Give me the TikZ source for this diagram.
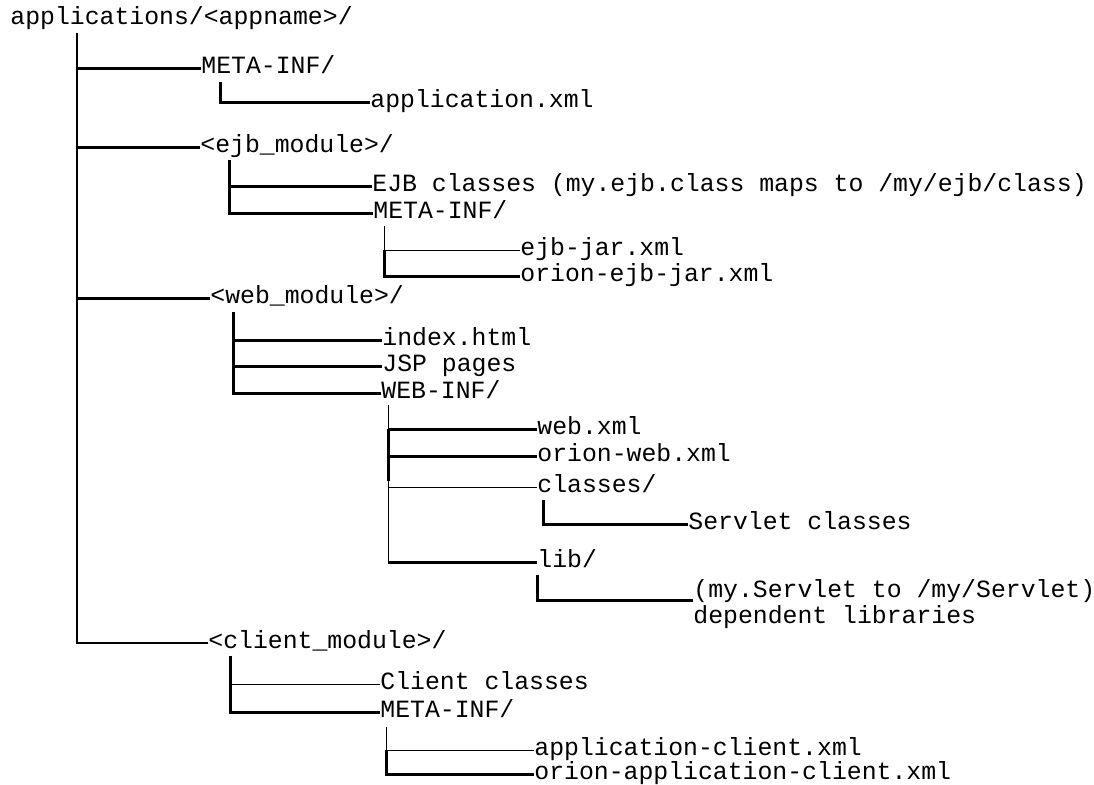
\documentclass[tikz,border=0pt]{standalone}
\usepackage{fontspec}
\setmainfont{Liberation Mono}
\usepackage{tikz}
\usetikzlibrary{calc, positioning}
\tikzstyle{entry} = [anchor=west, inner sep=0pt, text height=7pt, text depth=2pt, font=\fontsize{12.4}{9}\selectfont]
\tikzstyle{bar} = [line width=1.5pt]
\tikzstyle{thinbar} = [line width=0.5pt]

\begin{document}
\begin{tikzpicture}[x=0.5pt, y=-0.5pt, line cap=butt]
        \useasboundingbox (0,0) rectangle (1094,784);
        % top level
        \node[entry] (root) at (10,19) {applications/<appname>/};
        \node[entry] (meta1) at (201,68) {META-INF/};
        \node[entry] (appxml) at (370,102) {application.xml};
        \node[entry] (ejbmod) at (200,147) {<ejb\_module>/};
        \node[entry] (ejbcls) at (372,186) {EJB classes (my.ejb.class maps to /my/ejb/class)};
        \node[entry] (meta2) at (373,213) {META-INF/};
        \node[entry] (ejbjar) at (520,250) {ejb-jar.xml};
        \node[entry] (oejbjar) at (520,276) {orion-ejb-jar.xml};
        \node[entry] (webmod) at (210,298) {<web\_module>/};
        \node[entry] (index) at (382,340) {index.html};
        \node[entry] (jsp) at (382,366) {JSP pages};
        \node[entry] (webinf) at (381,393) {WEB-INF/};
        \node[entry] (webxml) at (537,429) {web.xml};
        \node[entry] (oweb) at (537,456) {orion-web.xml};
        \node[entry] (classes) at (537,487) {classes/};
        \node[entry] (servlet) at (688,524) {Servlet classes};
        \node[entry] (lib) at (537,562) {lib/};
        \node[entry, anchor=base west, text height=, text depth=, align=left] (deplib) at (693,623) {(my.Servlet to /my/Servlet)\\dependent libraries};
        \node[entry] (climod) at (208,643) {<client\_module>/};
        \node[entry] (clicls) at (380,684) {Client classes};
        \node[entry] (meta3) at (380,712) {META-INF/};
        \node[entry] (appcli) at (534,750) {application-client.xml};
        \node[entry] (oappcli) at (534,774) {orion-application-client.xml};

        % where each vertical starts
        \coordinate (trunk) at (77,33);
        \coordinate (meta1top) at (220,82);
        \coordinate (ejbtop) at (229,160);
        \coordinate (meta2top) at (384,226);
        \coordinate (webtop) at (233,312);
        \coordinate (webinftop) at (388,405);
        \coordinate (classestop) at (543,500);
        \coordinate (libtop) at (537,575);
        \coordinate (clitop) at (230,656);
        \coordinate (meta3top) at (386,727);

        \draw[line width=1pt] (trunk) |- (climod.west);
        \draw[bar] (trunk |- meta1.west) -- (meta1.west);
        \draw[bar] (trunk |- ejbmod.west) -- (ejbmod.west);
        \draw[bar] (trunk |- webmod.west) -- (webmod.west);

        \draw[bar] (meta1top) |- (appxml.west);

        \draw[bar] (ejbtop) |- (ejbcls.west);
        \draw[bar] (ejbtop) |- (meta2.west);

        \draw[thinbar] (meta2top) |- (ejbjar.west);
        \draw[bar] (meta2top |- ejbjar.west) |- (oejbjar.west);

        \draw[bar] (webtop) |- (index.west);
        \draw[bar] (webtop) |- (jsp.west);
        \draw[bar] (webtop) |- (webinf.west);

        \draw[thinbar] (webinftop) |- (webxml.west);
        \draw[bar] (webinftop |- webxml.west) -- (webxml.west);
        \draw[bar] (webinftop |- webxml.west) |- (oweb.west);
        \draw[bar] (webinftop |- oweb.west) -- ++(0,25);
        \draw[thinbar] (webinftop |- oweb.west) |- (classes.west);
        \draw[thinbar] (webinftop |- classes.west) -- (webinftop |- lib.west);
        \draw[bar] (webinftop |- lib.west) -- (lib.west);

        \draw[bar] (classestop) |- (servlet.west);
        \draw[bar] (libtop) |- ($(deplib.base west)+(0,-23)$);

        \draw[bar] (clitop) |- (meta3.west);
        \draw[thinbar] (clitop |- clicls.west) -- (clicls.west);

        \draw[thinbar] (meta3top) |- (appcli.west);
        \draw[bar] (meta3top |- appcli.west) |- (oappcli.west);

    \end{tikzpicture}
\end{document}
